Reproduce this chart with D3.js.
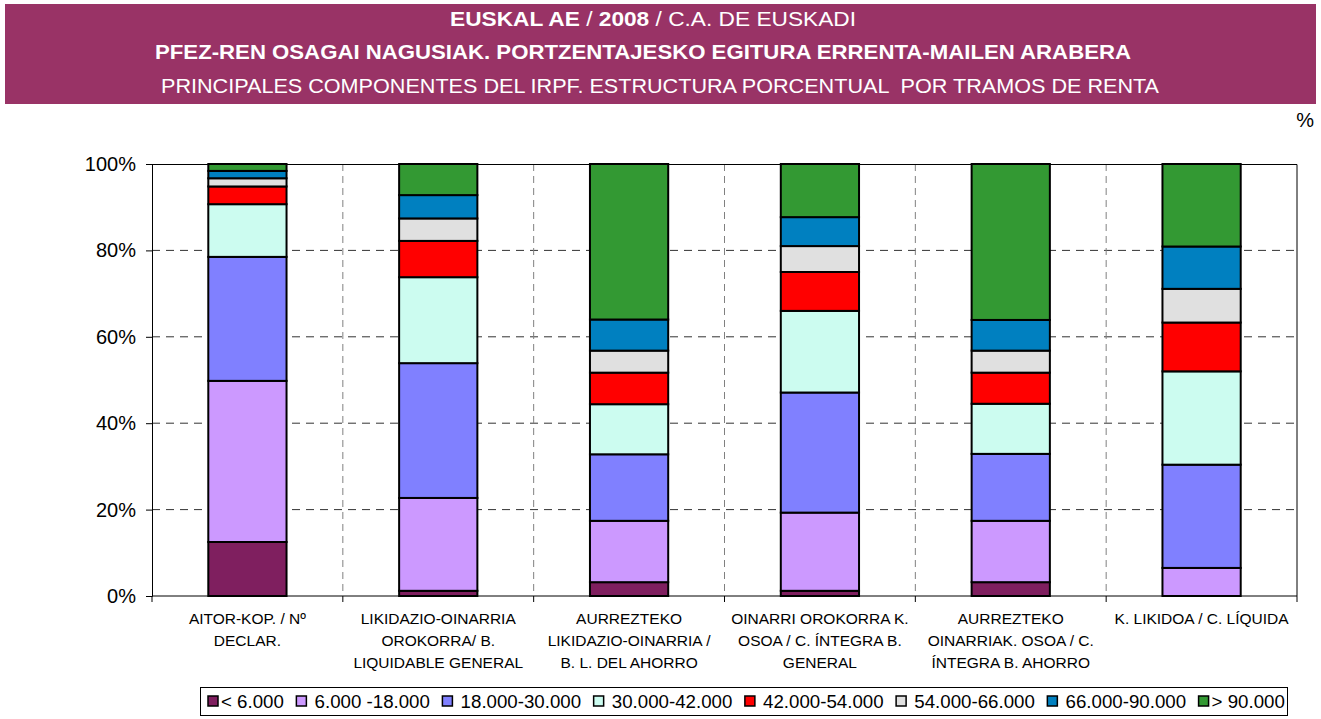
<!DOCTYPE html>
<html>
<head>
<meta charset="utf-8">
<script src="https://cdn.jsdelivr.net/npm/d3@7"></script>
<style>
  body { margin: 0; background: #fff; }
  text { font-family: "Liberation Sans", Arial, sans-serif; }
</style>
</head>
<body>
<div id="chart"></div>
<script>
// chart values (percent of each column)
var categories = ["c1", "c2", "c3", "c4", "c5", "c6"];
var categoryLabels = [
  ["AITOR-KOP. / Nº", "DECLAR."],
  ["LIKIDAZIO-OINARRIA", "OROKORRA/ B.", "LIQUIDABLE GENERAL"],
  ["AURREZTEKO", "LIKIDAZIO-OINARRIA /", "B. L. DEL AHORRO"],
  ["OINARRI OROKORRA K.", "OSOA / C. ÍNTEGRA B.", "GENERAL"],
  ["AURREZTEKO", "OINARRIAK. OSOA / C.", "ÍNTEGRA B. AHORRO"],
  ["K. LIKIDOA / C. LÍQUIDA"]
];
var seriesNames = ["< 6.000", " 6.000 -18.000", " 18.000-30.000", " 30.000-42.000",
  " 42.000-54.000", " 54.000-66.000", " 66.000-90.000", "> 90.000"];

var tramo1 = [12.5, 1.2, 3.2, 1.2, 3.2, 0.0];
var tramo2 = [37.3, 21.5, 14.2, 18.1, 14.2, 6.5];
var tramo3 = [28.7, 31.2, 15.4, 27.8, 15.5, 23.9];
var tramo4 = [12.2, 19.9, 11.6, 18.9, 11.6, 21.6];
var tramo5 = [4.1, 8.4, 7.3, 9.0, 7.2, 11.3];
var tramo6 = [1.9, 5.2, 5.1, 6.0, 5.1, 7.8];
var tramo7 = [1.7, 5.4, 7.2, 6.7, 7.1, 9.8];
var tramo8 = [1.6, 7.2, 36.0, 12.3, 36.1, 19.1];

var yTicks = [0, 20, 40, 60, 80, 100];

var colors = ["#7f1f5f", "#cc99ff", "#8080ff", "#ccfcf0", "#ff0000", "#e0e0e0", "#0080c0", "#339933"];

var allSeries = [tramo1, tramo2, tramo3, tramo4, tramo5, tramo6, tramo7, tramo8];

// build table for d3.stack
var table = categories.map(function(c, i) {
  var row = { cat: c };
  allSeries.forEach(function(s, j) { row["s" + j] = s[i]; });
  return row;
});
var keys = allSeries.map(function(s, j) { return "s" + j; });

var svgWidth = 1321;
var svgHeight = 719;

var margin = { top: 164, right: 24, bottom: 123, left: 152 };
var width = svgWidth - margin.left - margin.right;
var height = svgHeight - margin.top - margin.bottom;

var svg = d3.select("#chart")
  .append("svg")
  .attr("width", svgWidth)
  .attr("height", svgHeight);

// title band
svg.append("rect")
  .attr("x", 5)
  .attr("y", 4)
  .attr("width", 1311)
  .attr("height", 100)
  .attr("fill", "#993366");

// the title text in the original is a bit wider than Arial, so stretch it
var t1 = svg.append("text")
  .attr("x", 653)
  .attr("y", 26)
  .attr("text-anchor", "middle")
  .attr("fill", "#fff")
  .attr("textLength", 406)
  .attr("lengthAdjust", "spacingAndGlyphs")
  .style("font-size", "19.5px")
  .style("white-space", "pre");
t1.append("tspan").attr("font-weight", "bold").text("EUSKAL AE");
t1.append("tspan").text(" / ");
t1.append("tspan").attr("font-weight", "bold").text("2008");
t1.append("tspan").text(" / C.A. DE EUSKADI");

svg.append("text")
  .attr("x", 643)
  .attr("y", 59)
  .attr("text-anchor", "middle")
  .attr("fill", "#fff")
  .attr("font-weight", "bold")
  .attr("textLength", 976)
  .attr("lengthAdjust", "spacingAndGlyphs")
  .style("font-size", "19.5px")
  .text("PFEZ-REN OSAGAI NAGUSIAK. PORTZENTAJESKO EGITURA ERRENTA-MAILEN ARABERA");

svg.append("text")
  .attr("x", 660)
  .attr("y", 93)
  .attr("text-anchor", "middle")
  .attr("fill", "#fff")
  .attr("textLength", 998)
  .attr("lengthAdjust", "spacingAndGlyphs")
  .style("font-size", "19.5px")
  .style("white-space", "pre")
  .text("PRINCIPALES COMPONENTES DEL IRPF. ESTRUCTURA PORCENTUAL  POR TRAMOS DE RENTA");

svg.append("text")
  .attr("x", 1314)
  .attr("y", 127)
  .attr("text-anchor", "end")
  .style("font-size", "20px")
  .text("%");

var chartGroup = svg.append("g")
  .attr("transform", `translate(${margin.left}, ${margin.top})`);

var xScale = d3.scaleBand()
  .domain(categories)
  .range([0, width])
  .paddingInner(0.59)
  .paddingOuter(0.295);

var yScale = d3.scaleLinear()
  .domain([0, 100])
  .range([height, 0]);

// horizontal gridlines
chartGroup.append("g")
  .selectAll("line")
  .data(yTicks.filter(function(d) { return d > 0 && d < 100; }))
  .enter()
  .append("line")
  .attr("x1", 0)
  .attr("x2", width)
  .attr("y1", d => yScale(d))
  .attr("y2", d => yScale(d))
  .attr("stroke", "#333")
  .attr("stroke-width", 1)
  .attr("stroke-dasharray", "8,6");

// vertical gridlines between categories
var step = xScale.step();
chartGroup.append("g")
  .selectAll("line")
  .data(d3.range(1, categories.length))
  .enter()
  .append("line")
  .attr("x1", d => d * step)
  .attr("x2", d => d * step)
  .attr("y1", 0)
  .attr("y2", height)
  .attr("stroke", "#808080")
  .attr("stroke-width", 1)
  .attr("stroke-dasharray", "7,5");

// plot border (top & right)
chartGroup.append("path")
  .attr("d", `M0,0.5H${width}V${height}`)
  .attr("fill", "none")
  .attr("stroke", "#000")
  .attr("stroke-width", 1);

// stacked bars
var stacked = d3.stack().keys(keys)(table);

chartGroup.selectAll(".layer")
  .data(stacked)
  .enter()
  .append("g")
  .attr("class", "layer")
  .attr("fill", (d, i) => colors[i])
  .selectAll("rect")
  .data(d => d.filter(p => p[1] - p[0] > 0))
  .enter()
  .append("rect")
  .attr("x", d => xScale(d.data.cat))
  .attr("y", d => yScale(d[1]))
  .attr("width", xScale.bandwidth())
  .attr("height", d => yScale(d[0]) - yScale(d[1]))
  .attr("stroke", "#000")
  .attr("stroke-width", 2);

// y axis
var leftAxis = d3.axisLeft(yScale)
  .tickValues(yTicks)
  .tickSize(6)
  .tickPadding(10)
  .tickFormat(d => d + "%");

var yAxisG = chartGroup.append("g").call(leftAxis);
yAxisG.select(".domain").attr("stroke", "#000");
yAxisG.selectAll("text")
  .style("font-size", "20px")
  .style("font-family", "Liberation Sans, Arial, sans-serif")
  .attr("fill", "#000");

// x axis with ticks at category boundaries
var xAxisG = chartGroup.append("g")
  .attr("transform", `translate(0, ${height})`);
xAxisG.append("line")
  .attr("x1", 0).attr("x2", width)
  .attr("stroke", "#000");
xAxisG.selectAll(".bt")
  .data(d3.range(0, categories.length + 1))
  .enter()
  .append("line")
  .attr("class", "bt")
  .attr("x1", d => d * step)
  .attr("x2", d => d * step)
  .attr("y1", 0)
  .attr("y2", 6)
  .attr("stroke", "#000");

var labelGroups = xAxisG.selectAll(".xl")
  .data(categories)
  .enter()
  .append("text")
  .attr("class", "xl")
  .attr("text-anchor", "middle")
  .style("font-size", "15.5px")
  .attr("fill", "#000");

labelGroups.each(function(d, i) {
  var t = d3.select(this);
  categoryLabels[i].forEach(function(line, k) {
    t.append("tspan")
      .attr("x", xScale(d) + xScale.bandwidth() / 2)
      .attr("y", 28 + k * 22)
      .text(line);
  });
});

// legend
var legend = svg.append("g");
legend.append("rect")
  .attr("x", 200.5)
  .attr("y", 687.5)
  .attr("width", 1087)
  .attr("height", 28)
  .attr("fill", "#fff")
  .attr("stroke", "#000");

var lx = 208;
seriesNames.forEach(function(name, i) {
  legend.append("rect")
    .attr("x", lx)
    .attr("y", 696)
    .attr("width", 10)
    .attr("height", 10)
    .attr("fill", colors[i])
    .attr("stroke", "#000")
    .attr("stroke-width", 1.5);
  var txt = legend.append("text")
    .attr("x", lx + 13)
    .attr("y", 708)
    .style("font-size", "18.7px")
    .style("white-space", "pre")
    .text(name);
  lx = lx + 13 + txt.node().getComputedTextLength() + 12.5;
});
</script>
</body>
</html>
